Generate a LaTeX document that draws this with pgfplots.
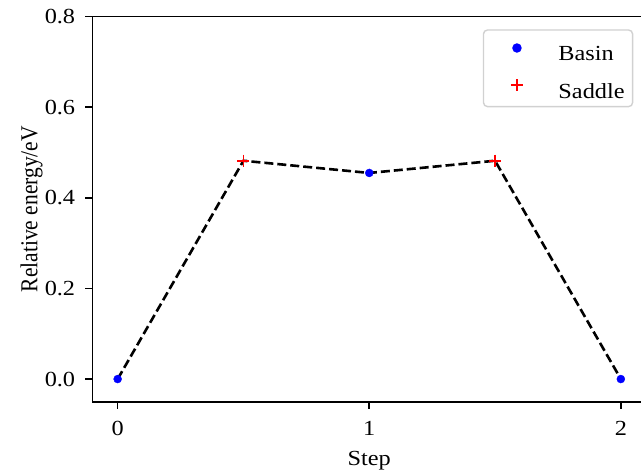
\documentclass[border=0pt]{standalone}
\usepackage{pgfplots}
\pgfplotsset{compat=1.18}
\usepackage{fontspec}
\setmainfont{Liberation Serif}[FakeStretch=1.13]
\newfontfamily\plainserif{Liberation Serif}
\begin{document}
\fontsize{21.5bp}{25bp}\selectfont
\begin{tikzpicture}
\begin{axis}[
  name=ax,
  scale only axis,
  width=553.5bp, height=385bp,
  xmin=-0.1, xmax=2.1, ymin=-0.05, ymax=0.8,
  xtick={0,1,2}, ytick={0,0.2,0.4,0.6,0.8},
  yticklabel style={/pgf/number format/fixed,/pgf/number format/fixed zerofill,/pgf/number format/precision=1, xshift=-3bp},
  xticklabel style={yshift=-5bp},
  /pgf/number format/assume math mode=true,
  tick align=outside, tick pos=left,
  major tick length=7bp,
  every tick/.style={black, line width=1.6bp},
  axis line style={line width=1.6bp},
  xlabel={Step}, ylabel={\plainserif\scalebox{1}[1.13]{Relative energy/eV}},
  xlabel style={at={(axis description cs:0.5,-0.167)}, anchor=base},
  ylabel style={at={(axis description cs:-0.0997,0.5)}, anchor=base, rotate=0},
  legend style={at={(axis description cs:1,1)}, anchor=north east, xshift=-12.7bp, yshift=-12.6bp,
    draw=black!18, rounded corners=4bp, line width=1.4bp, fill=white,
    inner xsep=2bp, inner ysep=1bp, row sep=0bp, nodes={inner xsep=6bp, inner ysep=0bp}},
  legend cell align=left,
  legend image code/.code={
    \path[draw=none, fill=none] (0bp,-7.3bp) rectangle (67bp,26.4bp);
    \draw[mark repeat=2,mark phase=2,#1] plot coordinates {(21.5bp,9.4bp) (31.5bp,9.4bp) (41.5bp,9.4bp)};},
]
\addplot[black, dash pattern=on 9bp off 4bp, line width=2.6bp, forget plot] coordinates {
  (0,0) (0.5,0.482) (1,0.455) (1.5,0.482) (2,0)};
\addplot[only marks, mark=*, mark size=4bp, blue, mark options={draw=blue, fill=blue}] coordinates {
  (0,0) (1,0.455) (2,0)};
\addlegendentry{\raisebox{4bp}{Basin}}
\addplot[only marks, mark=+, mark size=6bp, red, line width=1.8bp] coordinates {
  (0.5,0.482) (1.5,0.482)};
\addlegendentry{\raisebox{4bp}{Saddle}}
\end{axis}
\pgfresetboundingbox
\path[use as bounding box] ([shift={(-92.5bp,-71.3bp)}]ax.south west) rectangle ([shift={(548.5bp,401.7bp)}]ax.south west);
\end{tikzpicture}
\end{document}
